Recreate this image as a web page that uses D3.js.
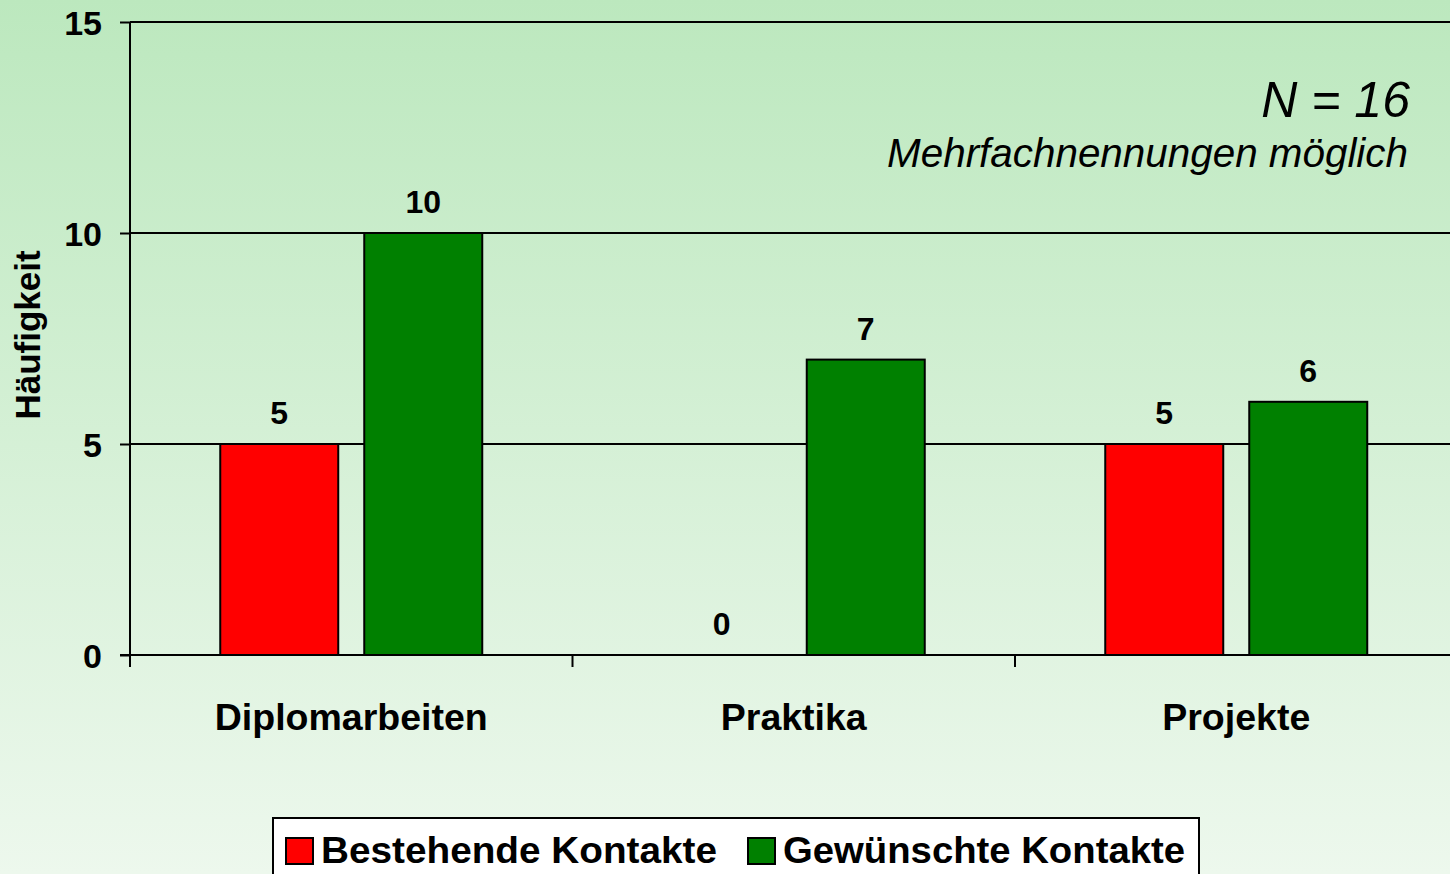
<!DOCTYPE html>
<html>
<head>
<meta charset="utf-8">
<script src="https://cdn.jsdelivr.net/npm/d3@7"></script>
<style>
  html, body { margin: 0; padding: 0; overflow: hidden; }
  svg { display: block; font-family: "Liberation Sans", Arial, sans-serif; }
</style>
</head>
<body>
<svg id="chart" width="1450" height="874"></svg>
<script>
// data
const categories = ['Diplomarbeiten', 'Praktika', 'Projekte'];
const seriesNames = ['Bestehende Kontakte', 'Gewünschte Kontakte'];
const bestehende = [5, 0, 5];
const gewuenschte = [10, 7, 6];
const yTicks = [0, 5, 10, 15];
const colors = ['#ff0000', '#008000'];

const W = 1450, H = 874;
const plot = { left: 130, right: 1457.5, top: 22, bottom: 655 };

const svg = d3.select('#chart');

// background gradient
const grad = svg.append('defs').append('linearGradient')
    .attr('id', 'bg').attr('x1', 0).attr('y1', 0).attr('x2', 0).attr('y2', 1);
grad.append('stop').attr('offset', '0%').attr('stop-color', '#bce8be');
grad.append('stop').attr('offset', '100%').attr('stop-color', '#edf8ed');
svg.append('rect').attr('width', W).attr('height', H).attr('fill', 'url(#bg)');

const rows = categories.map((c, i) => ({ cat: c, vals: [bestehende[i], gewuenschte[i]] }));

const x0 = d3.scaleBand().domain(categories).range([plot.left, plot.right]).padding(0);
const x1 = d3.scaleBand().domain(seriesNames).range([0, x0.bandwidth()])
    .paddingInner(0.1806).paddingOuter(0.6267);
const y = d3.scaleLinear().domain([0, 15]).range([plot.bottom, plot.top]);

// gridlines + y ticks
const yAxis = svg.append('g')
    .attr('transform', `translate(${plot.left},0)`)
    .call(d3.axisLeft(y).tickValues(yTicks).tickSize(10).tickSizeOuter(0).tickPadding(0).tickFormat(d3.format('d')));
yAxis.select('.domain').remove();
yAxis.selectAll('.tick line').attr('stroke', '#000').attr('stroke-width', 2);
yAxis.selectAll('.tick text')
    .attr('x', -28).attr('dy', null).attr('y', 12)
    .attr('fill', '#000').attr('font-size', 34).attr('font-weight', 'bold')
    .attr('font-family', '"Liberation Sans", Arial, sans-serif');

svg.append('g').selectAll('line')
    .data(yTicks.filter(d => d > 0))
    .join('line')
    .attr('x1', plot.left).attr('x2', W)
    .attr('y1', d => y(d)).attr('y2', d => y(d))
    .attr('stroke', '#000').attr('stroke-width', 2);

// bars
const groups = svg.append('g').selectAll('g')
    .data(rows)
    .join('g')
    .attr('transform', d => `translate(${x0(d.cat)},0)`);

groups.selectAll('rect')
    .data(d => d.vals.map((v, i) => ({ key: seriesNames[i], v, i })))
    .join('rect')
    .attr('x', d => x1(d.key))
    .attr('y', d => y(d.v))
    .attr('width', x1.bandwidth())
    .attr('height', d => y(0) - y(d.v))
    .attr('fill', d => colors[d.i])
    .attr('stroke', '#000')
    .attr('stroke-width', d => d.v > 0 ? 2 : 0);

groups.selectAll('text')
    .data(d => d.vals.map((v, i) => ({ key: seriesNames[i], v, i })))
    .join('text')
    .attr('x', d => x1(d.key) + x1.bandwidth() / 2)
    .attr('y', d => y(d.v) - 20)
    .attr('text-anchor', 'middle')
    .attr('font-size', 32).attr('font-weight', 'bold')
    .text(d => d.v);

// axes lines
svg.append('line')
    .attr('x1', plot.left).attr('x2', plot.left)
    .attr('y1', plot.top).attr('y2', plot.bottom + 12)
    .attr('stroke', '#000').attr('stroke-width', 2);

const xAxis = svg.append('g')
    .attr('transform', `translate(0,${plot.bottom})`)
    .call(d3.axisBottom(x0).tickSize(0).tickPadding(0));
xAxis.select('.domain').remove();
xAxis.selectAll('.tick text').remove();
xAxis.append('line')
    .attr('x1', plot.left - 10).attr('x2', W)
    .attr('stroke', '#000').attr('stroke-width', 2);
xAxis.selectAll('.sep')
    .data(categories.slice(1))
    .join('line')
    .attr('x1', d => x0(d)).attr('x2', d => x0(d))
    .attr('y1', 0).attr('y2', 12)
    .attr('stroke', '#000').attr('stroke-width', 2);

// category labels
svg.append('g').selectAll('text')
    .data(categories)
    .join('text')
    .attr('x', d => x0(d) + x0.bandwidth() / 2)
    .attr('y', 730)
    .attr('text-anchor', 'middle')
    .attr('font-size', 37.5).attr('font-weight', 'bold')
    .text(d => d);

// y title
svg.append('text')
    .attr('transform', 'translate(40,335) rotate(-90)')
    .attr('text-anchor', 'middle')
    .attr('font-size', 35).attr('font-weight', 'bold')
    .text('Häufigkeit');

// annotations
svg.append('text')
    .attr('x', 1410).attr('y', 117)
    .attr('text-anchor', 'end')
    .attr('font-size', 50).attr('font-style', 'italic')
    .text('N = 16');
svg.append('text')
    .attr('x', 1408).attr('y', 167)
    .attr('text-anchor', 'end')
    .attr('font-size', 40.4).attr('font-style', 'italic')
    .text('Mehrfachnennungen möglich');

// legend
const legend = svg.append('g');
legend.append('rect')
    .attr('x', 273).attr('y', 818).attr('width', 926).attr('height', 80)
    .attr('fill', '#fff').attr('stroke', '#000').attr('stroke-width', 2);
const legX = [286, 748];
const legTextX = [321, 783];
const legTextW = [396, 402];
seriesNames.forEach((s, i) => {
    legend.append('rect')
        .attr('x', legX[i]).attr('y', 838).attr('width', 27).attr('height', 26)
        .attr('fill', colors[i]).attr('stroke', '#000').attr('stroke-width', 2);
    legend.append('text')
        .attr('x', legTextX[i]).attr('y', 863)
        .attr('font-size', 36).attr('font-weight', 'bold')
        .attr('textLength', legTextW[i]).attr('lengthAdjust', 'spacingAndGlyphs')
        .text(s);
});
</script>
</body>
</html>
